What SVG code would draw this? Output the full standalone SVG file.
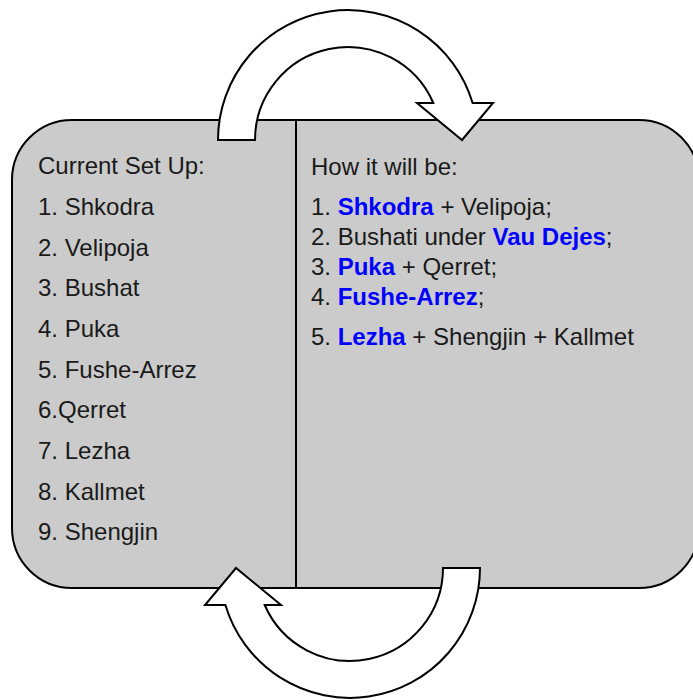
<svg xmlns="http://www.w3.org/2000/svg" width="693" height="700" viewBox="0 0 693 700">
<defs>
<style>
.panel{fill:#cbcbcb;stroke:#000;stroke-width:2}
.div{stroke:#000;stroke-width:2}
.arrow{fill:#fff;stroke:#000;stroke-width:2;stroke-linejoin:miter}
text{font-family:"Liberation Sans",Arial,sans-serif;font-size:24px;fill:#1a1a1a}
.b{font-weight:bold;fill:#0000ff}
</style>
<path id="carrow" d="M218,140 A130,130 0 0 1 472.6,103 L493,103 L462,140 L417,103 L433.3,103 A93,93 0 0 0 255,140 Z"/>
</defs>
<rect x="0" y="0" width="693" height="700" fill="#fff"/>
<g id="panel">
<rect class="panel" x="12" y="120" width="687" height="468" rx="60" ry="60"/>
<line class="div" x1="296" y1="120" x2="296" y2="588"/>
</g>
<g id="current">
<text x="38" y="174">Current Set Up:</text>
<text x="38" y="215">1. Shkodra</text>
<text x="38" y="256">2. Velipoja</text>
<text x="38" y="296">3. Bushat</text>
<text x="38" y="337">4. Puka</text>
<text x="38" y="378">5. Fushe-Arrez</text>
<text x="38" y="418">6.Qerret</text>
<text x="38" y="459">7. Lezha</text>
<text x="38" y="500">8. Kallmet</text>
<text x="38" y="540">9. Shengjin</text>
</g>
<g id="future">
<text x="311" y="175">How it will be:</text>
<text x="311" y="215">1. <tspan class="b">Shkodra</tspan> + Velipoja;</text>
<text x="311" y="245">2. Bushati under <tspan class="b">Vau Dejes</tspan>;</text>
<text x="311" y="275">3. <tspan class="b">Puka</tspan> + Qerret;</text>
<text x="311" y="305">4. <tspan class="b">Fushe-Arrez</tspan>;</text>
<text x="311" y="345">5. <tspan class="b">Lezha</tspan> + Shengjin + Kallmet</text>
</g>
<g id="connectors">
<use href="#carrow" class="arrow"/>
<use href="#carrow" class="arrow" transform="rotate(180 349 354)"/>
</g>
</svg>
